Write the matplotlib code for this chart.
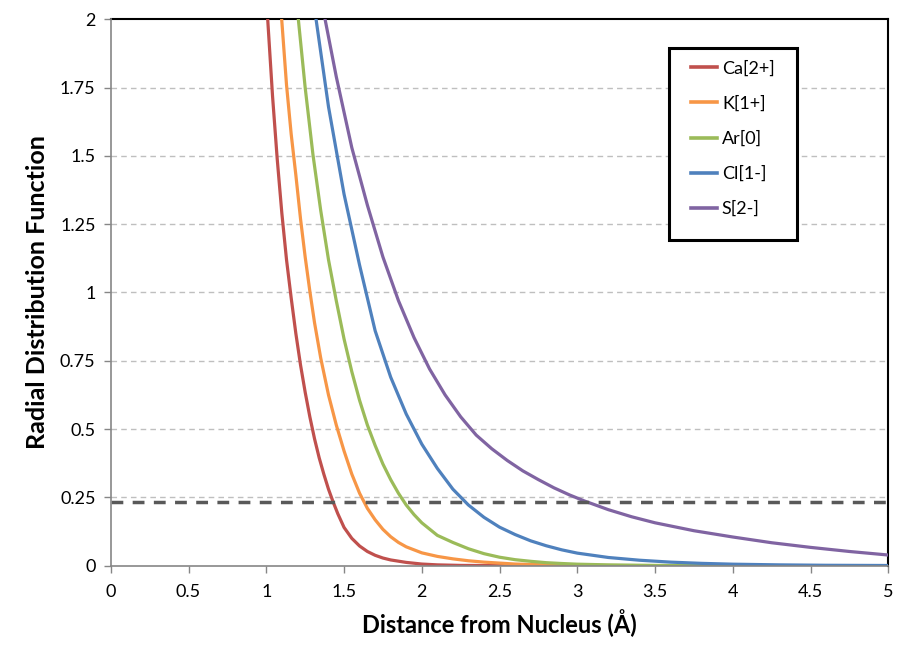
import matplotlib
matplotlib.use('Agg')
import matplotlib.pyplot as plt
from matplotlib.patches import Rectangle

# values (r in Angstrom, RDF value)
ca_r = [1.009, 1.04, 1.07, 1.10, 1.13, 1.16, 1.19, 1.22, 1.25, 1.28, 1.31, 1.34, 1.37, 1.40,
        1.43, 1.46, 1.50, 1.55, 1.60, 1.65, 1.70, 1.75, 1.80, 1.90, 2.0, 2.1, 2.25, 2.5, 5.0]
ca_v = [2.0, 1.72, 1.49, 1.29, 1.12, 0.98, 0.85, 0.735, 0.635, 0.545, 0.465, 0.395, 0.335, 0.28,
        0.233, 0.19, 0.14, 0.10, 0.072, 0.052, 0.038, 0.028, 0.021, 0.012, 0.006, 0.003, 0.001, 0.0002, 0.0]

k_r = [1.099, 1.13, 1.16, 1.19, 1.22, 1.25, 1.28, 1.31, 1.35, 1.40, 1.45, 1.50, 1.55, 1.60,
       1.65, 1.70, 1.75, 1.80, 1.85, 1.90, 2.0, 2.1, 2.2, 2.3, 2.4, 2.6, 2.8, 3.0, 3.3, 5.0]
k_v = [2.0, 1.76, 1.58, 1.43, 1.27, 1.13, 1.005, 0.89, 0.76, 0.625, 0.515, 0.42, 0.335, 0.265,
       0.21, 0.168, 0.133, 0.106, 0.085, 0.069, 0.047, 0.034, 0.025, 0.018, 0.013, 0.006, 0.003, 0.0012, 0.0003, 0.0]

ar_r = [1.206, 1.25, 1.30, 1.35, 1.40, 1.45, 1.50, 1.55, 1.60, 1.65, 1.70, 1.75, 1.80, 1.85,
        1.90, 1.95, 2.0, 2.1, 2.2, 2.3, 2.4, 2.5, 2.6, 2.7, 2.8, 2.9, 3.0, 3.2, 3.5, 4.0, 5.0]
ar_v = [2.0, 1.75, 1.505, 1.30, 1.12, 0.97, 0.83, 0.71, 0.605, 0.515, 0.44, 0.372, 0.315, 0.265,
        0.222, 0.187, 0.157, 0.111, 0.085, 0.062, 0.044, 0.031, 0.022, 0.016, 0.011, 0.008, 0.0055, 0.003, 0.001, 0.0002, 0.0]

cl_r = [1.32, 1.40, 1.50, 1.60, 1.70, 1.80, 1.90, 2.0, 2.1, 2.2, 2.3, 2.4, 2.5, 2.6, 2.7,
        2.8, 2.9, 3.0, 3.2, 3.4, 3.6, 3.8, 4.0, 4.3, 4.6, 5.0]
cl_v = [2.0, 1.68, 1.36, 1.10, 0.86, 0.69, 0.555, 0.445, 0.356, 0.28, 0.222, 0.177, 0.141, 0.114, 0.091,
        0.073, 0.058, 0.046, 0.030, 0.020, 0.013, 0.0085, 0.0055, 0.003, 0.0015, 0.0007]

s_r = [1.378, 1.45, 1.55, 1.65, 1.75, 1.85, 1.95, 2.05, 2.15, 2.25, 2.35, 2.45, 2.55, 2.65,
       2.75, 2.85, 2.95, 3.05, 3.2, 3.35, 3.5, 3.75, 4.0, 4.25, 4.5, 4.75, 5.0]
s_v = [2.0, 1.79, 1.53, 1.32, 1.13, 0.97, 0.835, 0.72, 0.625, 0.545, 0.478, 0.428, 0.385, 0.347,
       0.315, 0.285, 0.259, 0.236, 0.205, 0.179, 0.157, 0.128, 0.105, 0.084, 0.067, 0.052, 0.039]

cutoff = 0.233

labels = ['Ca[2+]', 'K[1+]', 'Ar[0]', 'Cl[1-]', 'S[2-]']
radii = [ca_r, k_r, ar_r, cl_r, s_r]
values = [ca_v, k_v, ar_v, cl_v, s_v]
colors = ['#C0504D', '#F79646', '#9BBB59', '#4F81BD', '#8064A2']

xticks = [0, 0.5, 1, 1.5, 2, 2.5, 3, 3.5, 4, 4.5, 5]
xticklabels = ['0', '0.5', '1', '1.5', '2', '2.5', '3', '3.5', '4', '4.5', '5']
yticks = [0, 0.25, 0.5, 0.75, 1, 1.25, 1.5, 1.75, 2]
yticklabels = ['0', '0.25', '0.5', '0.75', '1', '1.25', '1.5', '1.75', '2']

plt.rcParams['font.family'] = ['Lato', 'DejaVu Sans']

fig = plt.figure(figsize=(9.09, 6.59), dpi=100)
ax = fig.add_axes([0.1219, 0.1416, 0.8553, 0.8291])

for lab, r, v, c in zip(labels, radii, values, colors):
    ax.plot(r, v, color=c, linewidth=2.3, label=lab, zorder=3)

ax.axhline(cutoff, color='#595959', linewidth=2.5, linestyle=(0, (3.4, 2.7)), zorder=4)

ax.set_xlim(0, 5)
ax.set_ylim(0, 2)
ax.set_xticks(xticks)
ax.set_xticklabels(xticklabels)
ax.set_yticks(yticks)
ax.set_yticklabels(yticklabels)
ax.tick_params(axis='both', direction='out', length=5, width=1, color='#868686',
               labelsize=13, pad=8)
ax.tick_params(axis='y', pad=6)

for y in yticks[1:-1]:
    ax.axhline(y, color='#BFBFBF', linewidth=1, linestyle=(0, (4, 3)), zorder=1)

for s in ['top', 'right']:
    ax.spines[s].set_color('black')
    ax.spines[s].set_linewidth(1.5)
for s in ['left', 'bottom']:
    ax.spines[s].set_color('#868686')
    ax.spines[s].set_linewidth(1.2)
    ax.spines[s].set_zorder(5)

ax.set_xlabel('Distance from Nucleus (Å)', fontsize=17, fontweight='bold', labelpad=7)
ax.set_ylabel('Radial Distribution Function', fontsize=18, fontweight='bold', labelpad=8)

# legend box drawn by hand so its size matches the reference
ax.add_patch(Rectangle((0.718, 0.596), 0.1646, 0.3515, transform=ax.transAxes,
                       facecolor='white', edgecolor='black', linewidth=2.2, zorder=6))
leg = ax.legend(loc='upper left', bbox_to_anchor=(0.7465, 0.925), fontsize=13,
                frameon=False, handlelength=1.45, handletextpad=0.25,
                labelspacing=1.05, borderpad=0, borderaxespad=0)
leg.set_zorder(7)
for h in leg.get_lines():
    h.set_linewidth(2.6)

fig.savefig('out.png', dpi=100, facecolor='white')
